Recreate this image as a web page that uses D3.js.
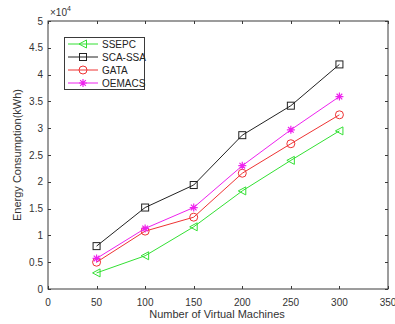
<!DOCTYPE html>
<html>
<head>
<meta charset="utf-8">
<script src="https://cdn.jsdelivr.net/npm/d3@7"></script>
<style>
  body { margin: 0; background: #fff; }
  svg { display: block; font-family: "Liberation Sans", Arial, sans-serif; }
</style>
</head>
<body>
<div id="chart"></div>
<script>
// data (energy in kWh)
const vms = [50, 100, 150, 200, 250, 300];
const ssepc = [3000, 6200, 11600, 18300, 24000, 29500];
const scaSsa = [8000, 15200, 19400, 28700, 34200, 41900];
const gata = [5000, 10800, 13400, 21600, 27100, 32500];
const oemacs = [5700, 11300, 15200, 23000, 29700, 35900];
const xTicks = [0, 50, 100, 150, 200, 250, 300, 350];
const yTicks = [0, 0.5, 1, 1.5, 2, 2.5, 3, 3.5, 4, 4.5, 5];

const series = [
  { name: "SSEPC", values: ssepc, color: "#33e033", marker: "tri" },
  { name: "SCA-SSA", values: scaSsa, color: "#222222", marker: "square" },
  { name: "GATA", values: gata, color: "#ee3333", marker: "circle" },
  { name: "OEMACS", values: oemacs, color: "#ee22ee", marker: "star" }
];

const width = 395, height = 324;
const margin = { left: 48, right: 7, top: 21, bottom: 35 };
const w = width - margin.left - margin.right;
const h = height - margin.top - margin.bottom;
const axisColor = "#3a3a3a";

const svg = d3.select("#chart").append("svg")
  .attr("width", width)
  .attr("height", height);

const g = svg.append("g")
  .attr("transform", `translate(${margin.left},${margin.top})`);

const x = d3.scaleLinear().domain([0, 350]).range([0, w]);
const y = d3.scaleLinear().domain([0, 50000]).range([h, 0]);

// box
g.append("rect")
  .attr("width", w).attr("height", h)
  .attr("fill", "none").attr("stroke", axisColor).attr("stroke-width", 1);

const tickLen = 3;
// x ticks bottom + top
xTicks.forEach(t => {
  const xp = Math.round(x(t)) + 0.5;
  g.append("line").attr("x1", xp).attr("x2", xp).attr("y1", h).attr("y2", h - tickLen)
    .attr("stroke", axisColor);
  g.append("line").attr("x1", xp).attr("x2", xp).attr("y1", 0).attr("y2", tickLen)
    .attr("stroke", axisColor);
  g.append("text").attr("x", x(t)).attr("y", h + 17)
    .attr("text-anchor", "middle").attr("font-size", "10px").attr("fill", "#333")
    .text(t);
});

// y ticks left + right
yTicks.forEach(t => {
  const yp = Math.round(y(t * 10000)) + 0.5;
  g.append("line").attr("x1", 0).attr("x2", tickLen).attr("y1", yp).attr("y2", yp)
    .attr("stroke", axisColor);
  g.append("line").attr("x1", w).attr("x2", w - tickLen).attr("y1", yp).attr("y2", yp)
    .attr("stroke", axisColor);
  g.append("text").attr("x", -5).attr("y", y(t * 10000)).attr("dy", "0.35em")
    .attr("text-anchor", "end").attr("font-size", "10px").attr("fill", "#333")
    .text(t);
});

// exponent label
const ex = g.append("text").attr("x", 2).attr("y", -5)
  .attr("font-size", "10px").attr("fill", "#333");
ex.append("tspan").text("\u00d710");
ex.append("tspan").attr("dy", -5).attr("font-size", "7px").text("4");

// axis titles
svg.append("text")
  .attr("x", margin.left + w / 2 - 1).attr("y", 318)
  .attr("text-anchor", "middle").attr("font-size", "11px").attr("fill", "#333")
  .text("Number of Virtual Machines");

svg.append("text")
  .attr("transform", `translate(21,${margin.top + h / 2}) rotate(-90)`)
  .attr("text-anchor", "middle").attr("font-size", "11px").attr("fill", "#333")
  .text("Energy Consumption(kWh)");

function drawMarker(sel, type, color, cx, cy) {
  if (type === "tri") {
    sel.append("path")
      .attr("d", `M${cx - 4},${cy} L${cx + 3.5},${cy - 4} L${cx + 3.5},${cy + 4} Z`)
      .attr("fill", "none").attr("stroke", color);
  } else if (type === "square") {
    sel.append("rect").attr("x", cx - 3.5).attr("y", cy - 3.5)
      .attr("width", 7).attr("height", 7)
      .attr("fill", "none").attr("stroke", color);
  } else if (type === "circle") {
    sel.append("circle").attr("cx", cx).attr("cy", cy).attr("r", 4)
      .attr("fill", "none").attr("stroke", color);
  } else {
    const r = 4;
    const p = [];
    for (let k = 0; k < 4; k++) {
      const a = k * Math.PI / 4;
      p.push(`M${cx - r * Math.cos(a)},${cy - r * Math.sin(a)} L${cx + r * Math.cos(a)},${cy + r * Math.sin(a)}`);
    }
    sel.append("path").attr("d", p.join(" ")).attr("stroke", color).attr("stroke-width", 1.2);
  }
}

const line = d3.line()
  .x(d => x(d[0]))
  .y(d => y(d[1]));

series.forEach(s => {
  const pts = vms.map((v, i) => [v, s.values[i]]);
  g.append("path").datum(pts)
    .attr("d", line)
    .attr("fill", "none").attr("stroke", s.color).attr("stroke-width", 1);
  pts.forEach(p => drawMarker(g, s.marker, s.color, x(p[0]), y(p[1])));
});

// legend
const lg = svg.append("g").attr("transform", "translate(64,37)");
lg.append("rect").attr("x", 0.5).attr("y", 0.5).attr("width", 80).attr("height", 52)
  .attr("fill", "#fff").attr("stroke", axisColor);
series.forEach((s, i) => {
  const ly = 7 + i * 13;
  lg.append("line").attr("x1", 4).attr("x2", 34).attr("y1", ly).attr("y2", ly)
    .attr("stroke", s.color);
  drawMarker(lg, s.marker, s.color, 19, ly);
  lg.append("text").attr("x", 38).attr("y", ly).attr("dy", "0.35em")
    .attr("font-size", "10px").attr("fill", "#222").text(s.name);
});
</script>
</body>
</html>
